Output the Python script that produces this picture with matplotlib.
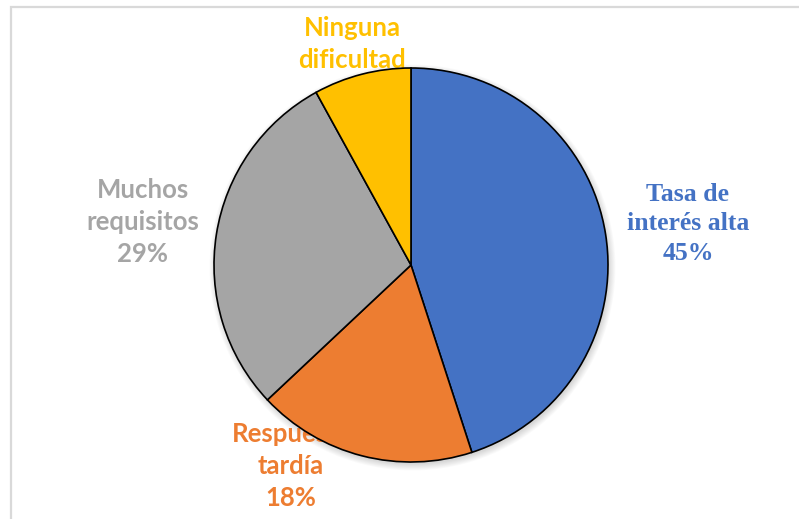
import matplotlib.pyplot as plt
import numpy as np
from matplotlib.patches import Circle, Rectangle

categories = ["Tasa de\ninterés alta", "Respuesta\ntardía", "Muchos\nrequisitos", "Ninguna\ndificultad"]
shares = [45, 18, 29, 8]
colors = ["#4472C4", "#ED7D31", "#A5A5A5", "#FFC000"]

W, H = 799, 519
fig = plt.figure(figsize=(W / 100, H / 100), dpi=100)
ax = fig.add_axes([0, 0, 1, 1])

# chart area frame (runs off the right and bottom edges)
fig.patches.append(Rectangle((11 / W, -0.05), 1.1, 1 - 6.5 / H + 0.05,
                             transform=fig.transFigure, fill=False,
                             edgecolor="#D9D9D9", linewidth=1.6))

cx, cy, r = 411, H - 265, 197

# soft shadow under the pie
for k in range(8):
    ax.add_patch(Circle((cx + 1.5, cy - 2.5), r + 6 - k * 0.9, color="black",
                        alpha=0.02, linewidth=0, zorder=1))

wedges, _ = ax.pie(shares, colors=colors, startangle=90, counterclock=False,
                   center=(cx, cy), radius=r, frame=True,
                   wedgeprops=dict(edgecolor="black", linewidth=1.2, zorder=3))
ax.set_xlim(0, W)
ax.set_ylim(0, H)
ax.set_aspect("equal")
ax.axis("off")

# data labels: placed around the wedges, drawn beneath the pie
label_pos = [(688, H - 224), (291, H - 466), (143, H - 222), (352, H - 60)]
fonts = ["Liberation Serif", "Lato", "Lato", "Lato"]
for name, val, col, pos, fam in zip(categories, shares, colors, label_pos, fonts):
    ax.text(pos[0], pos[1], f"{name}\n{val}%", color=col, fontsize=18.5,
            fontweight="bold", family=fam, ha="center", va="center",
            linespacing=1.38, zorder=2)

fig.savefig("out.png", dpi=100, facecolor="white")
